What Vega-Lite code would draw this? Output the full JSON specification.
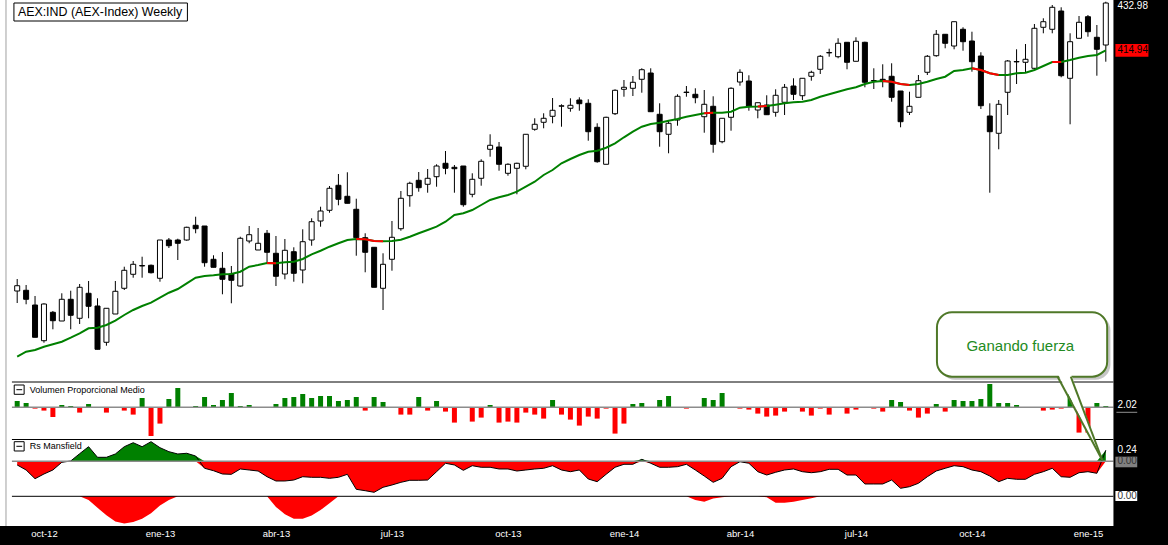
{
"$schema":"https://vega.github.io/schema/vega-lite/v6.json",
"width":1168,"height":526,
"autosize":{"type":"none"},
"padding":{"left":0,"top":0,"right":0,"bottom":19},
"background":"black",
"config":{"view":{"stroke":null,"fill":"white"}},
"datasets":{"d":[
{"t":"2012-09-14","o":323.54,"h":328.10,"l":318.98,"c":325.55,"ma":298.57,"v":0.63,"rs":-0.080,"rs2":0},
{"t":"2012-09-21","o":323.81,"h":325.82,"l":318.49,"c":320.39,"ma":300.47,"v":0.43,"rs":-0.189,"rs2":0},
{"t":"2012-09-28","o":318.22,"h":321.64,"l":305.95,"c":305.95,"ma":301.12,"v":-0.13,"rs":-0.378,"rs2":0},
{"t":"2012-10-05","o":304.65,"h":318.87,"l":303.89,"c":318.60,"ma":302.37,"v":-0.33,"rs":-0.276,"rs2":0},
{"t":"2012-10-12","o":315.45,"h":315.94,"l":308.99,"c":312.25,"ma":303.29,"v":-0.97,"rs":-0.189,"rs2":0},
{"t":"2012-10-19","o":312.14,"h":322.67,"l":312.14,"c":320.39,"ma":304.27,"v":0.23,"rs":-0.022,"rs2":0},
{"t":"2012-10-26","o":320.39,"h":323.65,"l":308.99,"c":314.31,"ma":305.79,"v":0.13,"rs":0.007,"rs2":0},
{"t":"2012-11-02","o":313.17,"h":326.20,"l":311.00,"c":324.95,"ma":307.47,"v":-0.53,"rs":0.165,"rs2":0},
{"t":"2012-11-09","o":322.67,"h":327.34,"l":313.17,"c":317.73,"ma":309.37,"v":0.33,"rs":0.317,"rs2":-0.08},
{"t":"2012-11-16","o":317.84,"h":320.77,"l":301.39,"c":301.39,"ma":309.59,"v":0,"rs":0.087,"rs2":-0.25},
{"t":"2012-11-23","o":304.05,"h":316.97,"l":302.75,"c":316.97,"ma":310.62,"v":-0.53,"rs":0.087,"rs2":-0.41},
{"t":"2012-11-30","o":314.80,"h":327.34,"l":314.80,"c":323.43,"ma":312.25,"v":0,"rs":0.159,"rs2":-0.55},
{"t":"2012-12-07","o":324.57,"h":332.77,"l":323.92,"c":331.41,"ma":314.42,"v":-0.33,"rs":0.317,"rs2":-0.59},
{"t":"2012-12-14","o":329.89,"h":334.94,"l":328.59,"c":333.69,"ma":316.32,"v":-0.73,"rs":0.404,"rs2":-0.56},
{"t":"2012-12-21","o":333.04,"h":336.57,"l":328.59,"c":333.23,"ma":317.84,"v":0.93,"rs":0.317,"rs2":-0.49},
{"t":"2012-12-28","o":333.31,"h":333.61,"l":330.19,"c":330.49,"ma":319.09,"v":-2.87,"rs":0.426,"rs2":-0.37},
{"t":"2013-01-04","o":328.37,"h":342.92,"l":327.07,"c":342.92,"ma":320.99,"v":-1.63,"rs":0.296,"rs2":-0.2},
{"t":"2013-01-11","o":342.92,"h":343.68,"l":339.88,"c":340.75,"ma":322.89,"v":0.83,"rs":0.209,"rs2":-0.08},
{"t":"2013-01-18","o":342.92,"h":343.41,"l":335.32,"c":341.67,"ma":324.30,"v":1.93,"rs":0.159,"rs2":0},
{"t":"2013-01-25","o":342.92,"h":347.97,"l":342.65,"c":347.75,"ma":326.47,"v":0,"rs":0.174,"rs2":0},
{"t":"2013-02-01","o":348.51,"h":351.77,"l":345.47,"c":347.21,"ma":328.59,"v":0.13,"rs":0.115,"rs2":0},
{"t":"2013-02-08","o":348.24,"h":348.24,"l":332.77,"c":334.29,"ma":329.24,"v":1.03,"rs":-0.152,"rs2":0},
{"t":"2013-02-15","o":335.59,"h":337.11,"l":332.55,"c":332.55,"ma":329.51,"v":0.23,"rs":-0.204,"rs2":0},
{"t":"2013-02-22","o":332.17,"h":338.36,"l":322.29,"c":327.99,"ma":329.89,"v":0.73,"rs":-0.276,"rs2":0},
{"t":"2013-03-01","o":330.00,"h":333.04,"l":318.87,"c":327.61,"ma":330.00,"v":1.43,"rs":-0.283,"rs2":0},
{"t":"2013-03-08","o":325.44,"h":344.17,"l":325.17,"c":343.57,"ma":330.87,"v":0.13,"rs":-0.167,"rs2":0},
{"t":"2013-03-15","o":342.54,"h":348.24,"l":341.67,"c":344.93,"ma":332.77,"v":0.23,"rs":-0.189,"rs2":0},
{"t":"2013-03-22","o":339.12,"h":347.48,"l":339.12,"c":341.67,"ma":333.42,"v":0,"rs":-0.211,"rs2":0},
{"t":"2013-03-29","o":345.47,"h":346.72,"l":334.45,"c":338.25,"ma":334.18,"v":0,"rs":-0.335,"rs2":0,"seg":"A"},
{"t":"2013-04-05","o":337.87,"h":344.44,"l":325.44,"c":329.13,"ma":334.07,"v":0.33,"rs":-0.428,"rs2":-0.23,"seg":"A"},
{"t":"2013-04-12","o":330.00,"h":343.30,"l":327.99,"c":339.01,"ma":334.45,"v":0.93,"rs":-0.428,"rs2":-0.39},
{"t":"2013-04-19","o":338.47,"h":340.15,"l":327.07,"c":330.27,"ma":334.67,"v":1.03,"rs":-0.407,"rs2":-0.49},
{"t":"2013-04-26","o":331.52,"h":346.99,"l":326.47,"c":342.27,"ma":335.70,"v":1.33,"rs":-0.335,"rs2":-0.49},
{"t":"2013-05-03","o":342.92,"h":351.17,"l":340.75,"c":349.87,"ma":337.49,"v":0.93,"rs":-0.348,"rs2":-0.42},
{"t":"2013-05-10","o":350.14,"h":355.57,"l":347.97,"c":353.94,"ma":338.85,"v":1.13,"rs":-0.348,"rs2":-0.3},
{"t":"2013-05-17","o":354.21,"h":363.44,"l":353.29,"c":362.57,"ma":340.37,"v":1.13,"rs":-0.370,"rs2":-0.15},
{"t":"2013-05-24","o":363.71,"h":368.00,"l":356.11,"c":358.39,"ma":341.67,"v":0.63,"rs":-0.348,"rs2":0},
{"t":"2013-05-31","o":359.53,"h":368.65,"l":356.87,"c":356.87,"ma":342.92,"v":0.73,"rs":-0.283,"rs2":0},
{"t":"2013-06-07","o":354.59,"h":358.61,"l":336.95,"c":343.79,"ma":343.30,"v":1.03,"rs":-0.609,"rs2":0,"seg":"B"},
{"t":"2013-06-14","o":343.79,"h":345.47,"l":330.65,"c":338.25,"ma":343.19,"v":-0.33,"rs":-0.639,"rs2":0,"seg":"B"},
{"t":"2013-06-21","o":340.15,"h":340.15,"l":324.95,"c":324.95,"ma":342.54,"v":1.03,"rs":-0.674,"rs2":0,"seg":"B"},
{"t":"2013-06-28","o":324.57,"h":337.87,"l":316.32,"c":333.69,"ma":342.43,"v":0.53,"rs":-0.565,"rs2":0,"seg":"B"},
{"t":"2013-07-05","o":335.59,"h":350.14,"l":331.25,"c":343.95,"ma":342.54,"v":0,"rs":-0.515,"rs2":0},
{"t":"2013-07-12","o":347.21,"h":361.54,"l":346.45,"c":358.77,"ma":343.03,"v":-0.73,"rs":-0.457,"rs2":0},
{"t":"2013-07-19","o":359.75,"h":365.07,"l":355.57,"c":364.47,"ma":344.17,"v":-0.73,"rs":-0.413,"rs2":0},
{"t":"2013-07-26","o":365.61,"h":368.76,"l":361.27,"c":362.79,"ma":345.47,"v":1.03,"rs":-0.413,"rs2":0},
{"t":"2013-08-02","o":364.09,"h":369.90,"l":360.89,"c":366.37,"ma":346.72,"v":-0.33,"rs":-0.407,"rs2":0},
{"t":"2013-08-09","o":366.97,"h":371.69,"l":363.17,"c":371.04,"ma":347.97,"v":0.63,"rs":-0.226,"rs2":0},
{"t":"2013-08-16","o":372.07,"h":376.74,"l":367.89,"c":370.17,"ma":349.87,"v":-0.43,"rs":-0.043,"rs2":0},
{"t":"2013-08-23","o":370.55,"h":371.42,"l":360.89,"c":370.01,"ma":352.42,"v":-1.53,"rs":-0.080,"rs2":0},
{"t":"2013-08-30","o":371.04,"h":371.04,"l":355.57,"c":356.33,"ma":353.07,"v":0,"rs":-0.196,"rs2":0},
{"t":"2013-09-06","o":360.29,"h":368.27,"l":359.15,"c":365.99,"ma":354.32,"v":-1.43,"rs":-0.096,"rs2":0},
{"t":"2013-09-13","o":366.37,"h":373.59,"l":363.55,"c":372.83,"ma":356.22,"v":-1.03,"rs":-0.130,"rs2":0},
{"t":"2013-09-20","o":377.39,"h":383.09,"l":374.57,"c":378.91,"ma":358.12,"v":0.23,"rs":-0.130,"rs2":0},
{"t":"2013-09-27","o":378.26,"h":380.16,"l":369.25,"c":371.69,"ma":359.15,"v":-1.53,"rs":-0.167,"rs2":0},
{"t":"2013-10-04","o":368.27,"h":372.07,"l":367.35,"c":371.69,"ma":360.02,"v":-1.43,"rs":-0.167,"rs2":0},
{"t":"2013-10-11","o":370.17,"h":372.29,"l":360.29,"c":372.07,"ma":361.27,"v":-1.53,"rs":-0.211,"rs2":0},
{"t":"2013-10-18","o":370.93,"h":383.09,"l":369.79,"c":383.09,"ma":363.17,"v":-0.53,"rs":-0.189,"rs2":0},
{"t":"2013-10-25","o":384.99,"h":389.17,"l":384.45,"c":386.89,"ma":365.07,"v":-0.73,"rs":-0.167,"rs2":0},
{"t":"2013-11-01","o":387.65,"h":391.07,"l":385.37,"c":389.17,"ma":367.62,"v":-1.13,"rs":-0.152,"rs2":0},
{"t":"2013-11-08","o":389.93,"h":396.88,"l":387.27,"c":392.21,"ma":369.52,"v":0.73,"rs":-0.096,"rs2":0},
{"t":"2013-11-15","o":393.76,"h":394.49,"l":385.97,"c":393.92,"ma":372.07,"v":-0.73,"rs":-0.189,"rs2":0},
{"t":"2013-11-22","o":392.97,"h":396.77,"l":391.67,"c":394.11,"ma":373.70,"v":-1.23,"rs":-0.226,"rs2":0},
{"t":"2013-11-29","o":396.12,"h":397.15,"l":392.05,"c":394.71,"ma":375.22,"v":-1.83,"rs":-0.189,"rs2":0},
{"t":"2013-12-06","o":394.87,"h":396.39,"l":380.65,"c":384.07,"ma":376.47,"v":-0.93,"rs":-0.385,"rs2":0},
{"t":"2013-12-13","o":385.75,"h":387.27,"l":372.29,"c":372.67,"ma":376.85,"v":-1.13,"rs":-0.443,"rs2":0},
{"t":"2013-12-20","o":371.69,"h":389.77,"l":371.69,"c":389.55,"ma":377.99,"v":-0.13,"rs":-0.283,"rs2":0},
{"t":"2013-12-27","o":390.91,"h":400.19,"l":390.42,"c":399.81,"ma":379.67,"v":-2.63,"rs":-0.130,"rs2":0},
{"t":"2014-01-03","o":400.19,"h":403.72,"l":397.37,"c":400.95,"ma":381.95,"v":-1.63,"rs":-0.065,"rs2":0},
{"t":"2014-01-10","o":400.57,"h":405.24,"l":397.64,"c":402.85,"ma":384.07,"v":0.33,"rs":-0.065,"rs2":0},
{"t":"2014-01-17","o":403.99,"h":408.17,"l":398.89,"c":407.63,"ma":385.97,"v":0.43,"rs":0.043,"rs2":0},
{"t":"2014-01-24","o":406.38,"h":408.17,"l":391.67,"c":391.67,"ma":387.00,"v":0,"rs":-0.043,"rs2":0},
{"t":"2014-01-31","o":390.69,"h":394.87,"l":378.37,"c":384.07,"ma":387.49,"v":0.73,"rs":-0.130,"rs2":0},
{"t":"2014-02-07","o":383.09,"h":388.52,"l":375.87,"c":387.27,"ma":388.25,"v":1.13,"rs":-0.130,"rs2":0},
{"t":"2014-02-14","o":388.52,"h":398.29,"l":386.35,"c":397.53,"ma":388.90,"v":0,"rs":-0.117,"rs2":0},
{"t":"2014-02-21","o":398.97,"h":401.44,"l":397.37,"c":399.12,"ma":389.77,"v":-0.13,"rs":-0.065,"rs2":0},
{"t":"2014-02-28","o":398.29,"h":400.57,"l":394.87,"c":396.99,"ma":390.42,"v":0,"rs":-0.189,"rs2":-0.08},
{"t":"2014-03-07","o":389.77,"h":399.92,"l":383.69,"c":394.49,"ma":391.07,"v":0.93,"rs":-0.320,"rs2":-0.12,"seg":"C"},
{"t":"2014-03-14","o":393.73,"h":397.53,"l":376.09,"c":379.29,"ma":391.29,"v":0.73,"rs":-0.457,"rs2":-0.05,"seg":"C"},
{"t":"2014-03-21","o":380.27,"h":389.17,"l":379.67,"c":389.17,"ma":391.29,"v":1.43,"rs":-0.370,"rs2":-0.02},
{"t":"2014-03-28","o":389.55,"h":400.95,"l":384.45,"c":400.57,"ma":391.67,"v":0,"rs":-0.117,"rs2":0},
{"t":"2014-04-04","o":402.96,"h":407.79,"l":401.55,"c":406.65,"ma":393.19,"v":-0.13,"rs":-0.009,"rs2":0},
{"t":"2014-04-11","o":403.34,"h":405.51,"l":392.05,"c":393.84,"ma":393.57,"v":-0.23,"rs":-0.043,"rs2":0},
{"t":"2014-04-18","o":392.32,"h":395.09,"l":389.17,"c":395.09,"ma":393.65,"v":-0.63,"rs":-0.226,"rs2":0,"seg":"D"},
{"t":"2014-04-25","o":394.22,"h":397.91,"l":390.53,"c":390.53,"ma":393.84,"v":-0.93,"rs":-0.298,"rs2":-0.02,"seg":"D"},
{"t":"2014-05-02","o":391.45,"h":400.19,"l":389.77,"c":397.91,"ma":394.33,"v":-0.83,"rs":-0.239,"rs2":-0.14},
{"t":"2014-05-09","o":395.25,"h":402.20,"l":390.42,"c":400.95,"ma":394.87,"v":-0.43,"rs":-0.189,"rs2":-0.14},
{"t":"2014-05-16","o":401.44,"h":404.37,"l":396.12,"c":398.29,"ma":395.25,"v":0,"rs":-0.167,"rs2":-0.12},
{"t":"2014-05-23","o":397.75,"h":404.37,"l":396.12,"c":404.37,"ma":395.47,"v":-0.43,"rs":-0.226,"rs2":-0.08},
{"t":"2014-05-30","o":405.13,"h":407.25,"l":403.45,"c":406.65,"ma":396.12,"v":-0.83,"rs":-0.248,"rs2":-0.04},
{"t":"2014-06-06","o":407.79,"h":413.22,"l":406.00,"c":412.73,"ma":397.37,"v":-0.13,"rs":-0.226,"rs2":0},
{"t":"2014-06-13","o":414.02,"h":415.61,"l":412.57,"c":414.17,"ma":398.29,"v":-0.73,"rs":-0.174,"rs2":0},
{"t":"2014-06-20","o":412.57,"h":419.57,"l":411.97,"c":417.67,"ma":399.27,"v":0,"rs":-0.174,"rs2":0},
{"t":"2014-06-27","o":418.05,"h":418.05,"l":407.79,"c":410.45,"ma":400.19,"v":-0.63,"rs":-0.298,"rs2":0},
{"t":"2014-07-04","o":410.83,"h":419.95,"l":410.83,"c":418.43,"ma":400.95,"v":-0.23,"rs":-0.298,"rs2":0},
{"t":"2014-07-11","o":418.05,"h":418.27,"l":400.95,"c":402.85,"ma":402.20,"v":0,"rs":-0.493,"rs2":0},
{"t":"2014-07-18","o":403.38,"h":408.17,"l":400.30,"c":403.53,"ma":403.07,"v":-0.13,"rs":-0.493,"rs2":0},
{"t":"2014-07-25","o":403.99,"h":409.69,"l":400.95,"c":403.45,"ma":403.34,"v":-0.43,"rs":-0.493,"rs2":0,"seg":"E"},
{"t":"2014-08-01","o":405.13,"h":410.07,"l":395.47,"c":397.15,"ma":403.07,"v":0.73,"rs":-0.407,"rs2":0,"seg":"E"},
{"t":"2014-08-08","o":399.54,"h":399.54,"l":385.75,"c":387.87,"ma":402.20,"v":0.53,"rs":-0.587,"rs2":0,"seg":"E"},
{"t":"2014-08-15","o":391.45,"h":399.27,"l":390.42,"c":393.73,"ma":401.82,"v":-0.33,"rs":-0.552,"rs2":0,"seg":"E"},
{"t":"2014-08-22","o":397.15,"h":405.62,"l":397.15,"c":403.45,"ma":402.20,"v":-1.03,"rs":-0.478,"rs2":0},
{"t":"2014-08-29","o":406.65,"h":413.22,"l":405.62,"c":412.73,"ma":403.07,"v":-0.63,"rs":-0.335,"rs2":0},
{"t":"2014-09-05","o":412.95,"h":422.72,"l":412.57,"c":421.09,"ma":404.10,"v":0.33,"rs":-0.211,"rs2":0},
{"t":"2014-09-12","o":421.09,"h":421.09,"l":415.77,"c":417.67,"ma":404.97,"v":-0.43,"rs":-0.152,"rs2":0},
{"t":"2014-09-19","o":416.64,"h":425.87,"l":415.39,"c":425.87,"ma":407.14,"v":0.73,"rs":-0.096,"rs2":0},
{"t":"2014-09-26","o":422.99,"h":423.75,"l":414.85,"c":418.27,"ma":407.52,"v":0.63,"rs":-0.117,"rs2":0},
{"t":"2014-10-03","o":418.54,"h":422.07,"l":406.87,"c":410.67,"ma":408.17,"v":0.63,"rs":-0.189,"rs2":0,"seg":"F"},
{"t":"2014-10-10","o":412.84,"h":414.25,"l":392.70,"c":393.95,"ma":407.52,"v":0.83,"rs":-0.226,"rs2":0,"seg":"F"},
{"t":"2014-10-17","o":390.04,"h":394.87,"l":360.89,"c":384.07,"ma":406.27,"v":2.33,"rs":-0.320,"rs2":0,"seg":"F"},
{"t":"2014-10-24","o":383.47,"h":396.12,"l":377.39,"c":394.49,"ma":405.62,"v":0.43,"rs":-0.443,"rs2":0,"seg":"F"},
{"t":"2014-10-31","o":399.05,"h":411.32,"l":390.42,"c":410.94,"ma":405.62,"v":0.43,"rs":-0.370,"rs2":0},
{"t":"2014-11-07","o":410.60,"h":415.39,"l":402.20,"c":410.75,"ma":406.27,"v":0.23,"rs":-0.391,"rs2":0},
{"t":"2014-11-14","o":410.45,"h":417.40,"l":406.49,"c":411.59,"ma":406.49,"v":0,"rs":-0.391,"rs2":0},
{"t":"2014-11-21","o":408.17,"h":425.00,"l":407.52,"c":423.37,"ma":407.52,"v":0,"rs":-0.283,"rs2":0},
{"t":"2014-11-28","o":423.75,"h":427.17,"l":421.47,"c":425.87,"ma":409.04,"v":-0.33,"rs":-0.226,"rs2":0},
{"t":"2014-12-05","o":422.99,"h":432.22,"l":421.47,"c":431.35,"ma":410.56,"v":-0.23,"rs":-0.152,"rs2":0,"seg":"G"},
{"t":"2014-12-12","o":429.94,"h":431.35,"l":404.75,"c":405.35,"ma":410.56,"v":-0.13,"rs":-0.335,"rs2":0,"seg":"G"},
{"t":"2014-12-19","o":404.37,"h":421.47,"l":386.89,"c":418.27,"ma":411.32,"v":1.33,"rs":-0.348,"rs2":0},
{"t":"2014-12-26","o":419.57,"h":428.04,"l":419.57,"c":425.65,"ma":412.19,"v":-2.53,"rs":-0.248,"rs2":0},
{"t":"2015-01-02","o":427.77,"h":428.42,"l":420.17,"c":422.07,"ma":412.84,"v":-2.53,"rs":-0.226,"rs2":0},
{"t":"2015-01-09","o":419.95,"h":424.62,"l":405.35,"c":415.39,"ma":413.22,"v":0.43,"rs":-0.261,"rs2":0},
{"t":"2015-01-16","o":417.02,"h":433.47,"l":410.67,"c":432.98,"ma":414.94,"v":0.13,"rs":0.24,"rs2":0}
]},
"data":{"name":"d"},
"resolve":{"scale":{"y":"independent"}},
"encoding":{"x":{"field":"t","type":"temporal","title":null,
 "scale":{"type":"utc","domain":[{"year":2012,"month":9,"date":4,"hours":10,"minutes":24,"utc":true},{"year":2015,"month":3,"date":1,"hours":21,"utc":true}]},
 "axis":{"title":null,"grid":false,"ticks":false,"domain":false,"labelColor":"white","labelFont":"Liberation Sans","labelFontSize":9.5,"labelPadding":2,"labelOverlap":false,"labelFlush":false,"labelBound":false,
  "values":[{"year":2012,"month":10,"date":5,"utc":true},{"year":2013,"month":1,"date":4,"utc":true},{"year":2013,"month":4,"date":5,"utc":true},{"year":2013,"month":7,"date":5,"utc":true},{"year":2013,"month":10,"date":4,"utc":true},{"year":2014,"month":1,"date":3,"utc":true},{"year":2014,"month":4,"date":4,"utc":true},{"year":2014,"month":7,"date":4,"utc":true},{"year":2014,"month":10,"date":3,"utc":true},{"year":2015,"month":1,"date":2,"utc":true}],
  "labelExpr":"['ene','feb','mar','abr','may','jun','jul','ago','sep','oct','nov','dic'][utcmonth(datum.value)] + '-' + utcFormat(datum.value, '%y')"}}},
"layer":[
{"data":{"values":[{"a":"2012-09-05T05:00:00Z","y":440,"y2":200}]},
 "mark":{"type":"rule","color":"#a0a0a0","strokeWidth":1,"clip":true},
 "encoding":{"x":{"field":"a","type":"temporal","title":null},
  "y":{"field":"y","type":"quantitative","scale":{"domain":[234.24,434.12]},"axis":null},"y2":{"field":"y2"}}},
{"mark":{"type":"rule","color":"black","strokeWidth":1},
 "encoding":{"y":{"field":"l","type":"quantitative","scale":{"domain":[234.24,434.12]},"axis":null},"y2":{"field":"h"}}},
{"mark":{"type":"bar","width":5,"stroke":"black","strokeWidth":1},
 "encoding":{"y":{"field":"o","type":"quantitative","scale":{"domain":[234.24,434.12]},"axis":null},"y2":{"field":"c"},
  "fill":{"condition":{"test":"datum.c < datum.o","value":"black"},"value":"white"}}},
{"mark":{"type":"line","color":"#008000","strokeWidth":2},
 "encoding":{"y":{"field":"ma","type":"quantitative","scale":{"domain":[234.24,434.12]},"axis":null}}},
{"transform":[{"filter":"datum.seg"}],
 "mark":{"type":"line","color":"#ff0000","strokeWidth":2},
 "encoding":{"y":{"field":"ma","type":"quantitative","scale":{"domain":[234.24,434.12]},"axis":null},"detail":{"field":"seg"}}},
{"mark":{"type":"bar","width":5},
 "encoding":{"y":{"field":"v","type":"quantitative","scale":{"domain":[-11.87,40.73]},"axis":null},"y2":{"datum":0},
  "color":{"condition":{"test":"datum.v < 0","value":"#ff0000"},"value":"#008000"}}},
{"mark":{"type":"area","color":"#008000"},
 "encoding":{"y":{"field":"rs","type":"quantitative","scale":{"domain":[0,10.028],"range":[461.3,0],"clamp":true},"axis":null},"y2":{"datum":0}}},
{"mark":{"type":"area","color":"#ff0000"},
 "encoding":{"y":{"field":"rs","type":"quantitative","scale":{"domain":[-1.4065,0],"range":[526,461.3],"clamp":true},"axis":null},"y2":{"datum":0}}},
{"mark":{"type":"area","color":"#ff0000"},
 "encoding":{"y":{"field":"rs2","type":"quantitative","scale":{"domain":[-0.6457,10.789]},"axis":null},"y2":{"datum":0}}},
{"mark":{"type":"line","color":"black","strokeWidth":1},
 "encoding":{"y":{"field":"rs","type":"quantitative","scale":{"domain":[-1.4065,10.028]},"axis":null}}},

{"data":{"values":[{"a":"2012-09-11T16:00:00Z","b":"2012-09-19T10:40:00Z","y":2.23,"y2":1.30}]},
 "mark":{"type":"rect","fill":"white","stroke":"black","strokeWidth":1},
 "encoding":{"x":{"field":"a","type":"temporal","title":null},"x2":{"field":"b"},
  "y":{"field":"y","type":"quantitative","scale":{"domain":[-11.87,40.73]},"axis":null},"y2":{"field":"y2"}}},
{"data":{"values":[{"a":"2012-09-11T16:00:00Z","b":"2012-09-19T10:40:00Z","y":0.426,"y2":0.224}]},
 "mark":{"type":"rect","fill":"white","stroke":"black","strokeWidth":1},
 "encoding":{"x":{"field":"a","type":"temporal","title":null},"x2":{"field":"b"},
  "y":{"field":"y","type":"quantitative","scale":{"domain":[-1.4065,10.028]},"axis":null},"y2":{"field":"y2"}}},
{"data":{"values":[{"a":"2012-09-11T10:24:00Z","b":"2013-01-25T13:00:00Z","y":432.98,"y2":426.14}]},
 "mark":{"type":"rect","fill":"white","stroke":"black","strokeWidth":1},
 "encoding":{"x":{"field":"a","type":"temporal","title":null},"x2":{"field":"b"},
  "y":{"field":"y","type":"quantitative","scale":{"domain":[234.24,434.12]},"axis":null},"y2":{"field":"y2"}}},
{"data":{"values":[{"a":"2012-09-09T21:00:00Z","b":"2015-01-22T00:00:00Z","y":0}]},
 "mark":{"type":"rule","color":"#8c8c8c","strokeWidth":1.5},
 "encoding":{"x":{"field":"a","type":"temporal","title":null},"x2":{"field":"b"},
  "y":{"field":"y","type":"quantitative","scale":{"domain":[-11.87,40.73]},"axis":null}}},
{"data":{"values":[{"a":"2012-09-09T21:00:00Z","b":"2015-01-22T00:00:00Z","y":0}]},
 "mark":{"type":"rule","color":"#8c8c8c","strokeWidth":1.5},
 "encoding":{"x":{"field":"a","type":"temporal","title":null},"x2":{"field":"b"},
  "y":{"field":"y","type":"quantitative","scale":{"domain":[-1.4065,10.028]},"axis":null}}},
{"data":{"values":[{"a":"2012-09-09T21:00:00Z","b":"2015-01-22T00:00:00Z","y":2.53},{"a":"2012-09-09T21:00:00Z","b":"2015-01-22T00:00:00Z","y":-3.22},{"a":"2012-09-13T09:00:00Z","b":"2012-09-17T21:30:00Z","y":1.76}]},
 "mark":{"type":"rule","color":"black","strokeWidth":1},
 "encoding":{"x":{"field":"a","type":"temporal","title":null},"x2":{"field":"b"},
  "y":{"field":"y","type":"quantitative","scale":{"domain":[-11.87,40.73]},"axis":null}}},
{"data":{"values":[{"a":"2012-09-13T09:00:00Z","b":"2012-09-17T21:30:00Z","y":0.326}]},
 "mark":{"type":"rule","color":"black","strokeWidth":1},
 "encoding":{"x":{"field":"a","type":"temporal","title":null},"x2":{"field":"b"},
  "y":{"field":"y","type":"quantitative","scale":{"domain":[-1.4065,10.028]},"axis":null}}},
{"data":{"values":[{"a":"2012-09-09T21:00:00Z","b":"2015-01-22T00:00:00Z","y":0}]},
 "mark":{"type":"rule","color":"black","strokeWidth":1},
 "encoding":{"x":{"field":"a","type":"temporal","title":null},"x2":{"field":"b"},
  "y":{"field":"y","type":"quantitative","scale":{"domain":[-0.6457,10.789]},"axis":null}}},
{"data":{"values":[{"a":"2012-09-23T21:00:00Z","y":1.73,"txt":"Volumen Proporcional Medio"}]},
 "mark":{"type":"text","align":"left","baseline":"middle","font":"Liberation Sans","fontSize":9,"color":"black"},
 "encoding":{"x":{"field":"a","type":"temporal","title":null},
  "y":{"field":"y","type":"quantitative","scale":{"domain":[-11.87,40.73]},"axis":null},"text":{"field":"txt"}}},
{"data":{"values":[{"a":"2012-09-23T21:00:00Z","y":0.333,"txt":"Rs Mansfield"}]},
 "mark":{"type":"text","align":"left","baseline":"middle","font":"Liberation Sans","fontSize":9,"color":"black"},
 "encoding":{"x":{"field":"a","type":"temporal","title":null},
  "y":{"field":"y","type":"quantitative","scale":{"domain":[-1.4065,10.028]},"axis":null},"text":{"field":"txt"}}},
{"data":{"values":[{"a":"2012-09-14T13:00:00Z","y":429.56,"txt":"AEX:IND (AEX-Index) Weekly"}]},
 "mark":{"type":"text","align":"left","baseline":"middle","font":"Liberation Sans","fontSize":12.4,"color":"black"},
 "encoding":{"x":{"field":"a","type":"temporal","title":null},
  "y":{"field":"y","type":"quantitative","scale":{"domain":[234.24,434.12]},"axis":null},"text":{"field":"txt"}}},
{"data":{"values":[{"a":"2015-01-22T00:00:00Z","b":"2015-03-10T00:00:00Z","y":450,"y2":200}]},
 "mark":{"type":"rect","color":"black","clip":true},
 "encoding":{"x":{"field":"a","type":"temporal","title":null},"x2":{"field":"b"},
  "y":{"field":"y","type":"quantitative","scale":{"domain":[234.24,434.12]},"axis":null},"y2":{"field":"y2"}}},
{"data":{"values":[{"a":"2015-01-23T12:48:00Z","b":"2015-02-18T10:38:00Z","y":417.40,"y2":412.57}]},
 "mark":{"type":"rect","color":"#ff0000"},
 "encoding":{"x":{"field":"a","type":"temporal","title":null},"x2":{"field":"b"},
  "y":{"field":"y","type":"quantitative","scale":{"domain":[234.24,434.12]},"axis":null},"y2":{"field":"y2"}}},
{"data":{"values":[{"a":"2015-01-23T12:48:00Z","b":"2015-02-09T15:40:00Z","y":0.1,"y2":-0.13}]},
 "mark":{"type":"rect","color":"#808080"},
 "encoding":{"x":{"field":"a","type":"temporal","title":null},"x2":{"field":"b"},
  "y":{"field":"y","type":"quantitative","scale":{"domain":[-1.4065,10.028]},"axis":null},"y2":{"field":"y2"}}},
{"data":{"values":[{"a":"2015-01-23T12:48:00Z","b":"2015-02-09T15:40:00Z","y":0.115,"y2":-0.102}]},
 "mark":{"type":"rect","color":"white"},
 "encoding":{"x":{"field":"a","type":"temporal","title":null},"x2":{"field":"b"},
  "y":{"field":"y","type":"quantitative","scale":{"domain":[-0.6457,10.789]},"axis":null},"y2":{"field":"y2"}}},
{"data":{"values":[{"a":"2015-01-24T08:00:00Z","b":"2015-02-09T15:40:00Z","y":-0.5}]},
 "mark":{"type":"rule","color":"#909090","strokeWidth":1},
 "encoding":{"x":{"field":"a","type":"temporal","title":null},"x2":{"field":"b"},
  "y":{"field":"y","type":"quantitative","scale":{"domain":[-11.87,40.73]},"axis":null}}},
{"data":{"values":[{"a":"2015-01-25T02:30:00Z","y":432.0,"txt":"432.98"}]},
 "mark":{"type":"text","align":"left","baseline":"middle","font":"Liberation Sans","fontSize":10,"color":"white"},
 "encoding":{"x":{"field":"a","type":"temporal","title":null},
  "y":{"field":"y","type":"quantitative","scale":{"domain":[234.24,434.12]},"axis":null},"text":{"field":"txt"}}},
{"data":{"values":[{"a":"2015-01-25T02:30:00Z","y":414.94,"txt":"414.94"}]},
 "mark":{"type":"text","align":"left","baseline":"middle","font":"Liberation Sans","fontSize":10,"color":"black"},
 "encoding":{"x":{"field":"a","type":"temporal","title":null},
  "y":{"field":"y","type":"quantitative","scale":{"domain":[234.24,434.12]},"axis":null},"text":{"field":"txt"}}},
{"data":{"values":[{"a":"2015-01-25T02:30:00Z","y":0.2,"txt":"2.02"}]},
 "mark":{"type":"text","align":"left","baseline":"middle","font":"Liberation Sans","fontSize":10,"color":"white"},
 "encoding":{"x":{"field":"a","type":"temporal","title":null},
  "y":{"field":"y","type":"quantitative","scale":{"domain":[-11.87,40.73]},"axis":null},"text":{"field":"txt"}}},
{"data":{"values":[{"a":"2015-01-25T02:30:00Z","y":0.24,"txt":"0.24"}]},
 "mark":{"type":"text","align":"left","baseline":"middle","font":"Liberation Sans","fontSize":10,"color":"white"},
 "encoding":{"x":{"field":"a","type":"temporal","title":null},
  "y":{"field":"y","type":"quantitative","scale":{"domain":[-1.4065,10.028]},"axis":null},"text":{"field":"txt"}}},
{"data":{"values":[{"a":"2015-01-25T02:30:00Z","y":0,"txt":"0.00"}]},
 "mark":{"type":"text","align":"left","baseline":"middle","font":"Liberation Sans","fontSize":10,"color":"#333333"},
 "encoding":{"x":{"field":"a","type":"temporal","title":null},
  "y":{"field":"y","type":"quantitative","scale":{"domain":[-1.4065,10.028]},"axis":null},"text":{"field":"txt"}}},
{"data":{"values":[{"a":"2015-01-25T02:30:00Z","y":0,"txt":"0.00"}]},
 "mark":{"type":"text","align":"left","baseline":"middle","font":"Liberation Sans","fontSize":10,"color":"#333333"},
 "encoding":{"x":{"field":"a","type":"temporal","title":null},
  "y":{"field":"y","type":"quantitative","scale":{"domain":[-0.6457,10.789]},"axis":null},"text":{"field":"txt"}}},
{"data":{"values":[{"a":"2014-09-07T21:00:00Z","b":"2015-01-19T15:00:00Z","y":314.31,"y2":289.83}]},
 "mark":{"type":"rect","color":"#a0a0a0","opacity":0.6,"cornerRadius":15},
 "encoding":{"x":{"field":"a","type":"temporal","title":null},"x2":{"field":"b"},
  "y":{"field":"y","type":"quantitative","scale":{"domain":[234.24,434.12]},"axis":null},"y2":{"field":"y2"}}},
{"data":{"values":[{"a":"2014-09-05T13:00:00Z","b":"2015-01-17T02:00:00Z","y":315.45,"y2":290.97}]},
 "mark":{"type":"rect","fill":"white","stroke":"#4f7828","strokeWidth":2,"cornerRadius":15},
 "encoding":{"x":{"field":"a","type":"temporal","title":null},"x2":{"field":"b"},
  "y":{"field":"y","type":"quantitative","scale":{"domain":[234.24,434.12]},"axis":null},"y2":{"field":"y2"}}},
{"data":{"values":[{"yy":292.2,"xa":"2014-12-09T05:00:00Z","xb":"2014-12-19T13:00:00Z"},{"yy":259.32,"xa":"2015-01-13T05:00:00Z","xb":"2015-01-13T05:00:00Z"}]},
 "mark":{"type":"area","orient":"horizontal","color":"white"},
 "encoding":{"y":{"field":"yy","type":"quantitative","scale":{"domain":[234.24,434.12]},"axis":null},
  "x":{"field":"xa","type":"temporal","title":null},"x2":{"field":"xb"}}},
{"data":{"values":[{"a":"2014-12-09T05:00:00Z","b":"2015-01-13T05:00:00Z","y":290.97,"y2":259.32},{"a":"2014-12-19T13:00:00Z","b":"2015-01-13T05:00:00Z","y":290.97,"y2":259.32}]},
 "mark":{"type":"rule","color":"#4f7828","strokeWidth":2},
 "encoding":{"x":{"field":"a","type":"temporal","title":null},"x2":{"field":"b"},
  "y":{"field":"y","type":"quantitative","scale":{"domain":[234.24,434.12]},"axis":null},"y2":{"field":"y2"}}},
{"data":{"values":[{"a":"2014-11-09T21:00:00Z","y":302.75,"txt":"Ganando fuerza"}]},
 "mark":{"type":"text","align":"center","baseline":"middle","font":"Liberation Sans","fontSize":15,"color":"#228b22"},
 "encoding":{"x":{"field":"a","type":"temporal","title":null},
  "y":{"field":"y","type":"quantitative","scale":{"domain":[234.24,434.12]},"axis":null},"text":{"field":"txt"}}}
]
}
